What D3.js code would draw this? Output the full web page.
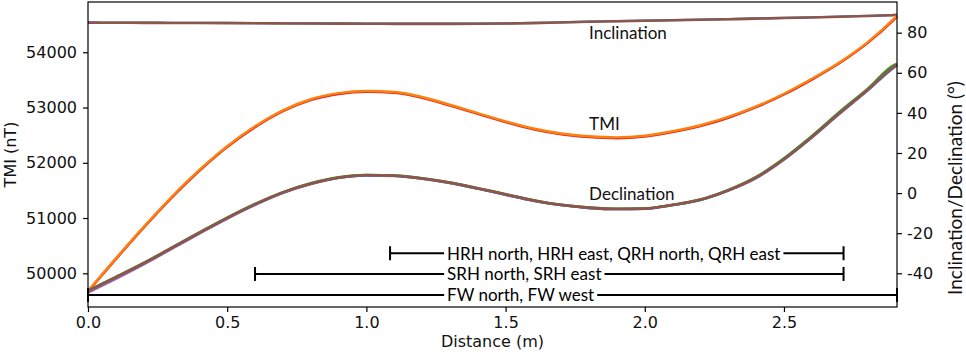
<!DOCTYPE html>
<html><head><meta charset="utf-8">
<script src="https://cdn.jsdelivr.net/npm/d3@7"></script>
<style>
html,body{margin:0;padding:0;background:#fff;}
svg{display:block;}
.tick text{font-family:"DejaVu Sans",sans-serif;}
</style></head>
<body><svg id="chart" width="966" height="357"></svg>
<script>
// ---- data ----
const distance = [0,0.1,0.2,0.3,0.4,0.5,0.6,0.7,0.8,0.9,1.0,1.1,1.2,1.3,1.4,1.5,1.6,1.7,1.8,1.9,2.0,2.1,2.2,2.3,2.4,2.5,2.6,2.7,2.8,2.9,2.906];
const tmiOrange = [49680,50270,50840,51380,51870,52300,52660,52950,53150,53260,53300,53280,53190,53050,52900,52750,52620,52530,52480,52460,52490,52570,52680,52830,53020,53250,53520,53820,54180,54630,54660];
const tmiRed = [49670,50255,50825,51365,51855,52285,52645,52935,53135,53245,53285,53265,53175,53035,52885,52735,52605,52515,52465,52445,52475,52555,52665,52815,53005,53235,53505,53805,54165,54615,54645];
const declBrown = [-48.8,-42.0,-35.0,-27.4,-19.8,-12.4,-5.6,0.3,4.7,7.7,9.0,8.7,7.3,5.2,2.4,-0.6,-3.6,-5.9,-7.3,-7.9,-7.7,-5.9,-3.3,1.4,7.8,17.0,28.0,40.0,51.5,63.5,64.0];
const declBlue = [-49.2,-42.3,-35.2,-27.6,-20.0,-12.6,-5.8,0.1,4.6,7.6,8.9,8.6,7.2,5.0,2.2,-0.8,-3.8,-6.0,-7.4,-8.0,-7.8,-6.0,-3.5,1.2,7.5,16.7,27.7,39.6,51.1,63.1,63.7];
const declGreen = [-48.6,-41.8,-34.8,-27.2,-19.6,-12.2,-5.4,0.5,4.9,7.9,9.1,8.8,7.4,5.3,2.5,-0.5,-3.5,-5.8,-7.2,-7.8,-7.6,-5.8,-3.2,1.6,8.1,17.4,28.5,40.6,52.0,64.2,64.5];
const declPurple = [-49.6,-42.8,-35.6,-27.9,-20.2,-12.7,-5.9,0.1,4.5,7.6,8.8,8.5,7.1,5.0,2.2,-0.8,-3.8,-6.0,-7.4,-8.0,-7.8,-6.0,-3.4,1.3,7.6,16.8,27.8,39.8,51.3,63.3,63.8];
const inclBrown = [85.0,84.95,84.9,84.85,84.8,84.75,84.7,84.6,84.55,84.5,84.45,84.4,84.4,84.4,84.45,84.55,84.75,85.1,85.45,85.7,85.95,86.2,86.45,86.7,87.0,87.3,87.6,87.95,88.35,88.8,88.85];
const inclBlue = [85.1,85.05,85.0,84.95,84.9,84.85,84.8,84.7,84.65,84.6,84.55,84.5,84.5,84.5,84.55,84.65,84.85,85.2,85.55,85.8,86.05,86.3,86.55,86.8,87.1,87.4,87.7,88.05,88.45,88.9,88.95];

const xTicks = [0,0.5,1.0,1.5,2.0,2.5];
const leftTicks = [50000,51000,52000,53000,54000];
const rightTicks = [-40,-20,0,20,40,60,80];

// annotation ranges
const rangeLabels = ["HRH north, HRH east, QRH north, QRH east","SRH north, SRH east","FW north, FW west"];
const rangeStart = [1.085, 0.6, 0];
const rangeEnd = [2.714, 2.714, 2.906];
const rangeLevel = [-30, -40.3, -50.8];
const rangeTextX = 1.29;

const curveLabels = ["Inclination","TMI","Declination"];
const curveLabelX = [1.8,1.8,1.8];
const curveLabelY = [80.2, 34.5, 0]; // right-axis units

// ---- layout ----
const L=88, R=897, T=2, B=307;
const svg = d3.select("#chart");
const x = d3.scaleLinear().domain([0,2.906]).range([L,R]);
const yL = d3.scaleLinear().domain([49390,54910]).range([B,T]);
const yR = d3.scaleLinear().domain([-56.8,95.3]).range([B,T]);

const lineL = d3.line().x((d,i)=>x(distance[i])).y(d=>yL(d)).curve(d3.curveMonotoneX);
const lineR = d3.line().x((d,i)=>x(distance[i])).y(d=>yR(d)).curve(d3.curveMonotoneX);

const g = svg.append("g");
function draw(arr, gen, color, w){
  g.append("path").datum(arr).attr("d",gen).attr("fill","none")
   .attr("stroke",color).attr("stroke-width",w).attr("stroke-linejoin","round");
}
draw(inclBlue, lineR, "#1f77b4", 2.2);
draw(inclBrown, lineR, "#8c564b", 2.6);
draw(tmiRed, lineL, "#d62728", 2.4);
draw(tmiOrange, lineL, "#ff7f0e", 2.4);
draw(declBlue, lineR, "#1f77b4", 2.4);
draw(declPurple, lineR, "#9467bd", 2.4);
draw(declGreen, lineR, "#2ca02c", 2.4);
draw(declBrown, lineR, "#8c564b", 2.8);

// curve labels
const labFont = "Lato, 'Open Sans', sans-serif";
curveLabels.forEach((t,i)=>{
  svg.append("text").attr("x",x(curveLabelX[i])).attr("y",yR(curveLabelY[i]))
    .attr("dominant-baseline","central").attr("font-family",labFont).attr("font-size",17)
    .attr("fill","#111").text(t);
});

// range annotations
rangeLabels.forEach((t,i)=>{
  const yy = yR(rangeLevel[i]);
  const ag = svg.append("g");
  ag.append("line").attr("x1",x(rangeStart[i])).attr("x2",x(rangeEnd[i]))
    .attr("y1",yy).attr("y2",yy).attr("stroke","#000").attr("stroke-width",2);
  [rangeStart[i], rangeEnd[i]].forEach(v=>{
    ag.append("line").attr("x1",x(v)).attr("x2",x(v)).attr("y1",yy-7).attr("y2",yy+7)
      .attr("stroke","#000").attr("stroke-width",2);
  });
  const tx = ag.append("text").attr("x",x(rangeTextX)).attr("y",yy)
    .attr("dominant-baseline","central").attr("font-family",labFont).attr("font-size",17)
    .attr("fill","#000").text(t);
  const bb = tx.node().getBBox();
  ag.insert("rect","text").attr("x",bb.x-3).attr("y",yy-8).attr("width",bb.width+6).attr("height",16).attr("fill","#fff");
});

// frame
svg.append("rect").attr("x",L).attr("y",T).attr("width",R-L).attr("height",B-T)
  .attr("fill","none").attr("stroke","#000").attr("stroke-width",1.2);

// axes
const ax = svg.append("g").attr("transform",`translate(0,${B})`)
  .call(d3.axisBottom(x).tickValues(xTicks).tickFormat(d3.format(".1f")).tickSize(5).tickPadding(5));
const ayl = svg.append("g").attr("transform",`translate(${L},0)`)
  .call(d3.axisLeft(yL).tickValues(leftTicks).tickFormat(d=>String(d)).tickSize(5).tickPadding(6));
const ayr = svg.append("g").attr("transform",`translate(${R},0)`)
  .call(d3.axisRight(yR).tickValues(rightTicks).tickFormat(d=>String(d)).tickSize(5).tickPadding(5));
[ax,ayl,ayr].forEach(a=>{
  a.select(".domain").remove();
  a.selectAll(".tick line").attr("stroke","#000").attr("stroke-width",1.2);
  a.selectAll(".tick text").attr("font-size",16).attr("fill","#111");
});

// axis titles
svg.append("text").attr("x",(L+R)/2).attr("y",347).attr("text-anchor","middle")
  .attr("font-family","DejaVu Sans, sans-serif").attr("font-size",16).attr("fill","#111").text("Distance (m)");
svg.append("text").attr("transform",`translate(16,${(T+B)/2}) rotate(-90)`).attr("text-anchor","middle")
  .attr("font-family","DejaVu Sans, sans-serif").attr("font-size",16).attr("fill","#111").text("TMI (nT)");
svg.append("text").attr("transform",`translate(962,188) rotate(-90)`).attr("text-anchor","middle")
  .attr("font-family",labFont).attr("font-size",19).attr("fill","#111").text("Inclination/Declination (°)");
</script></body></html>
